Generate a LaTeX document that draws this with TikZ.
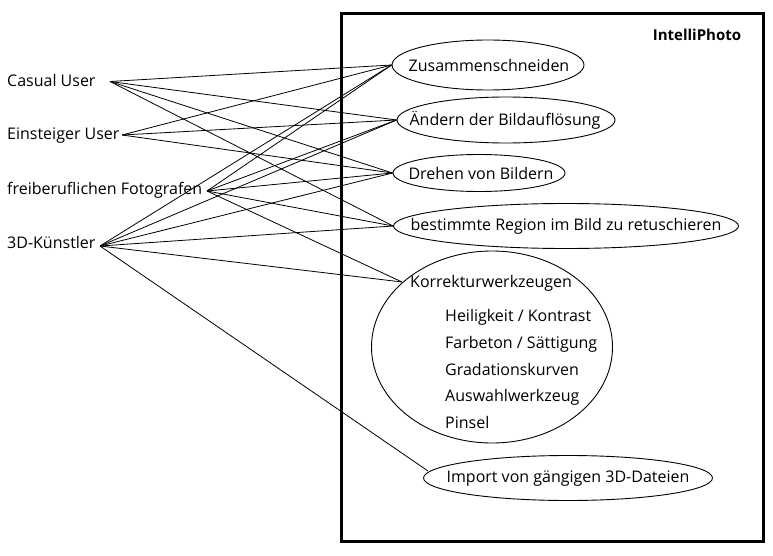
\documentclass[tikz,border=0pt]{standalone}
\usepackage{fontspec}
\setmainfont{Open Sans}
\usetikzlibrary{shapes.geometric}
\begin{document}
\begin{tikzpicture}[x=1pt,y=-1pt,
  txt/.style={inner sep=0pt, font=\fontsize{16}{18}\selectfont},
  lbl/.style={txt, anchor=base west},
  uc/.style={draw=black, line width=0.9pt, ellipse, inner sep=0pt},
  conn/.style={draw=black, line width=0.8pt},
  sysbox/.style={draw=black, line width=3pt}
]
\useasboundingbox (0,0) rectangle (773,556);
\fill[white] (0,0) rectangle (773,556);
% system boundary
\draw[sysbox] (341,14) rectangle (763.5,541.5);
\node[font=\fontsize{15}{18}\selectfont\bfseries, anchor=base, inner sep=0pt] (title) at (697,40.5) {IntelliPhoto};
% actors
\node[lbl] (casual) at (7,86.5) {Casual User};
\node[lbl] (einst) at (7,140) {Einsteiger User};
\node[lbl] (foto) at (7,194) {freiberuflichen Fotografen};
\node[lbl] (kuenst) at (7,248) {3D-Künstler};
\coordinate (pc) at (110,81.5);
\coordinate (pe) at (122,135);
\coordinate (pf) at (207,191);
\coordinate (pk) at (100,246);
% use cases
\node[uc, minimum width=192pt, minimum height=50pt] (zus) at (488,65) {};
\node[uc, minimum width=218pt, minimum height=46pt] (aend) at (506,120) {};
\node[uc, minimum width=172pt, minimum height=37pt] (dreh) at (479,173) {};
\node[uc, minimum width=345pt, minimum height=45pt] (reg) at (566,226) {};
\node[uc, minimum width=241pt, minimum height=192pt] (korr) at (492,347) {};
\node[uc, minimum width=289pt, minimum height=45pt] (imp) at (568,478) {};
\node[txt] (zust) at (489,65.5) {Zusammenschneiden};
\node[txt] (aendt) at (505,120) {Ändern der Bildauflösung};
\node[txt] (dreht) at (481,173.5) {Drehen von Bildern};
\node[txt] (regt) at (566,226.5) {bestimmte Region im Bild zu retuschieren};
\node[txt] (impt) at (568,478.5) {Import von gängigen 3D-Dateien};
\node[lbl] (korrt) at (410,287) {Korrekturwerkzeugen};
\node[lbl] (k1) at (445,321.5) {Heiligkeit / Kontrast};
\node[lbl] (k2) at (445,348) {Farbeton / Sättigung};
\node[lbl] (k3) at (445,375) {Gradationskurven};
\node[lbl] (k4) at (445,401.5) {Auswahlwerkzeug};
\node[lbl] (k5) at (445,428) {Pinsel};
\coordinate (korrin) at (402,282);
\coordinate (impin) at (428,471);
% connectors
\draw[conn] (pc) -- (zus.west);
\draw[conn] (pc) -- (aend.west);
\draw[conn] (pc) -- (dreh.west);
\draw[conn] (pc) -- (reg.west);
\draw[conn] (pe) -- (zus.west);
\draw[conn] (pe) -- (aend.west);
\draw[conn] (pe) -- (dreh.west);
\draw[conn] (pf) -- (zus.west);
\draw[conn] (pf) -- (aend.west);
\draw[conn] (pf) -- (dreh.west);
\draw[conn] (pf) -- (reg.west);
\draw[conn] (pf) -- (korrin);
\draw[conn] (pk) -- (zus.west);
\draw[conn] (pk) -- (aend.west);
\draw[conn] (pk) -- (dreh.west);
\draw[conn] (pk) -- (reg.west);
\draw[conn] (pk) -- (korrin);
\draw[conn] (pk) -- (impin);
\end{tikzpicture}
\end{document}
